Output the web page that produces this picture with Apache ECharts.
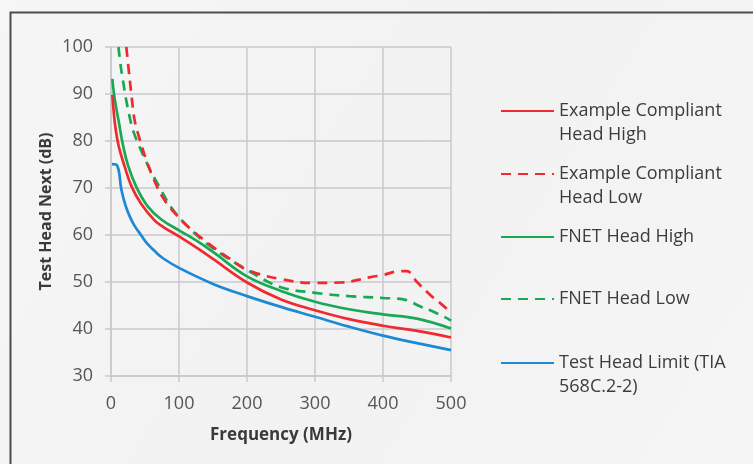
<!DOCTYPE html>
<html>
<head>
<meta charset="utf-8">
<title>Test Head NEXT vs Frequency</title>
<script src="https://cdn.jsdelivr.net/npm/echarts@6/dist/echarts.min.js"></script>
<style>
  html, body { margin: 0; padding: 0; background: #f4f4f4; }
  #chart { width: 753px; height: 464px; }
</style>
</head>
<body>
<div id="chart"></div>
<script>
// Axis ranges (MHz / dB)
const freqTicks = [0, 100, 200, 300, 400, 500];
const dbTicks = [30, 40, 50, 60, 70, 80, 90, 100];

// Series names as shown in the legend
const seriesNames = [
  'Example Compliant\nHead High',
  'Example Compliant\nHead Low',
  'FNET Head High',
  'FNET Head Low',
  'Test Head Limit (TIA\n568C.2-2)'
];

// [frequency MHz, NEXT dB]
const compliantHigh = [
  [2, 89.8], [4, 86.2], [6, 83.4], [9, 80.6], [12.5, 78.2], [20, 74.6],
  [30, 70.4], [44, 66.7], [64, 63.1], [77, 61.7], [100, 59.7], [128, 57.1],
  [150, 54.9], [200, 49.9], [250, 46.3], [300, 44.0], [350, 42.1],
  [400, 40.7], [450, 39.6], [500, 38.2]
];
const compliantLow = [
  [22.5, 100], [26, 95.2], [28, 92.5], [30.5, 89.2], [34.5, 84.6], [40.5, 81.2],
  [52, 75.9], [64, 71.5], [76.5, 67.9], [93.6, 64.7], [113, 61.8], [146, 57.9],
  [175, 54.9], [200, 52.6], [250, 50.6], [300, 49.8], [340, 49.9], [380, 51.0],
  [400, 51.5], [425, 52.3], [435, 52.3], [450, 50.0], [470, 47.2], [485, 45.4],
  [500, 43.5]
];
const fnetHigh = [
  [2, 93.2], [4, 90.4], [7.5, 87.2], [12, 83.6], [17.5, 79.2], [25, 74.8],
  [37, 70.3], [54, 66.1], [74, 63.3], [100, 61.0], [128, 58.6], [150, 56.4],
  [200, 51.2], [250, 48.1], [300, 45.8], [350, 44.2], [400, 43.1],
  [450, 42.2], [500, 40.1]
];
const fnetLow = [
  [11, 100], [14, 96.2], [18, 92.5], [22, 89.0], [27, 85.4], [33, 82.0],
  [44, 78.1], [57, 74.0], [69, 70.8], [89, 65.8], [113, 61.8], [146, 57.6],
  [200, 52.6], [250, 48.9], [300, 47.7], [350, 47.0], [400, 46.6],
  [430, 46.3], [455, 44.8], [475, 43.6], [490, 42.6], [500, 41.8]
];
const headLimit = [
  [1.5, 75.1], [7.5, 75.0], [10, 74.4], [12.2, 73.1], [14.6, 70.2], [18, 68.0],
  [22, 66.0], [28, 63.8], [34.5, 62.0], [44, 60.0], [52, 58.4], [67, 56.2],
  [77, 55.0], [100, 53.0], [150, 49.6], [200, 47.0], [250, 44.7], [300, 42.6],
  [350, 40.5], [400, 38.6], [450, 37.0], [500, 35.5]
];

const RED = '#ef2b30';
const GREEN = '#19a955';
const BLUE = '#1d88d6';
const FONT = '"Open Sans", "DejaVu Sans", sans-serif';
const DASH = [10, 7];
const GRID = '#c8c9cf';

function makeSeries(name, data, color, dashed) {
  return {
    name: name,
    type: 'line',
    data: data,
    smooth: 0.4,
    symbol: 'none',
    clip: true,
    lineStyle: { color: color, width: 2.7, type: dashed ? DASH : 'solid' },
    itemStyle: { color: color }
  };
}

// One legend block per entry so each sits at its own height.
// Two-line names get a leading blank line so the key line sits beside the first line.
function legendEntry(name, top, twoLines) {
  return {
    data: [name],
    orient: 'vertical',
    left: 500,
    top: top,
    padding: 0,
    itemWidth: 53,
    itemHeight: 14,
    selectedMode: false,
    itemStyle: { opacity: 0 },
    lineStyle: { type: 'inherit' },
    formatter: twoLines ? function (n) { return '\n' + n; } : '{name}',
    textStyle: {
      fontFamily: FONT,
      fontSize: 18,
      color: '#3c3c3c',
      lineHeight: 24
    }
  };
}

const chart = echarts.init(document.getElementById('chart'), null, { renderer: 'canvas' });

chart.setOption({
  backgroundColor: {
    type: 'linear', x: 0, y: 0, x2: 1, y2: 1,
    colorStops: [
      { offset: 0, color: '#f6f6f6' },
      { offset: 0.5, color: '#f2f2f2' },
      { offset: 1, color: '#f5f5f5' }
    ]
  },
  animation: false,
  graphic: [{
    type: 'rect',
    left: 8, top: 10,
    shape: { width: 800, height: 500 },
    style: { fill: 'none', stroke: '#4d4d4d', lineWidth: 2 },
    silent: true
  }],
  grid: { left: 111, right: 302, top: 47, bottom: 88, containLabel: false },
  legend: [
    legendEntry(seriesNames[0], 75, true),
    legendEntry(seriesNames[1], 138, true),
    legendEntry(seriesNames[2], 225, false),
    legendEntry(seriesNames[3], 287, false),
    legendEntry(seriesNames[4], 327, true)
  ],
  xAxis: {
    type: 'value',
    min: freqTicks[0],
    max: freqTicks[freqTicks.length - 1],
    interval: 100,
    name: 'Frequency (MHz)',
    nameLocation: 'middle',
    nameGap: 51,
    nameTextStyle: { fontFamily: FONT, fontSize: 17, fontWeight: 'bold', color: '#3a3a3a' },
    axisLine: { show: true, lineStyle: { color: GRID, width: 1.5 } },
    axisTick: { show: true, length: 6, lineStyle: { color: GRID, width: 1.5 } },
    axisLabel: { fontFamily: FONT, fontSize: 18, color: '#555555', margin: 19 },
    splitLine: { show: true, lineStyle: { color: GRID, width: 1.5 } }
  },
  yAxis: {
    type: 'value',
    min: dbTicks[0],
    max: dbTicks[dbTicks.length - 1],
    interval: 10,
    name: 'Test Head Next (dB)',
    nameLocation: 'middle',
    nameGap: 57,
    nameTextStyle: { fontFamily: FONT, fontSize: 16, fontWeight: 'bold', color: '#3a3a3a' },
    axisLine: { show: true, lineStyle: { color: GRID, width: 1.5 } },
    axisTick: { show: true, length: 6, lineStyle: { color: GRID, width: 1.5 } },
    axisLabel: { fontFamily: FONT, fontSize: 18, color: '#555555', margin: 18 },
    splitLine: { show: true, lineStyle: { color: GRID, width: 1.5 } }
  },
  series: [
    makeSeries(seriesNames[4], headLimit, BLUE, false),
    makeSeries(seriesNames[3], fnetLow, GREEN, true),
    makeSeries(seriesNames[2], fnetHigh, GREEN, false),
    makeSeries(seriesNames[1], compliantLow, RED, true),
    makeSeries(seriesNames[0], compliantHigh, RED, false)
  ]
});
</script>
</body>
</html>
